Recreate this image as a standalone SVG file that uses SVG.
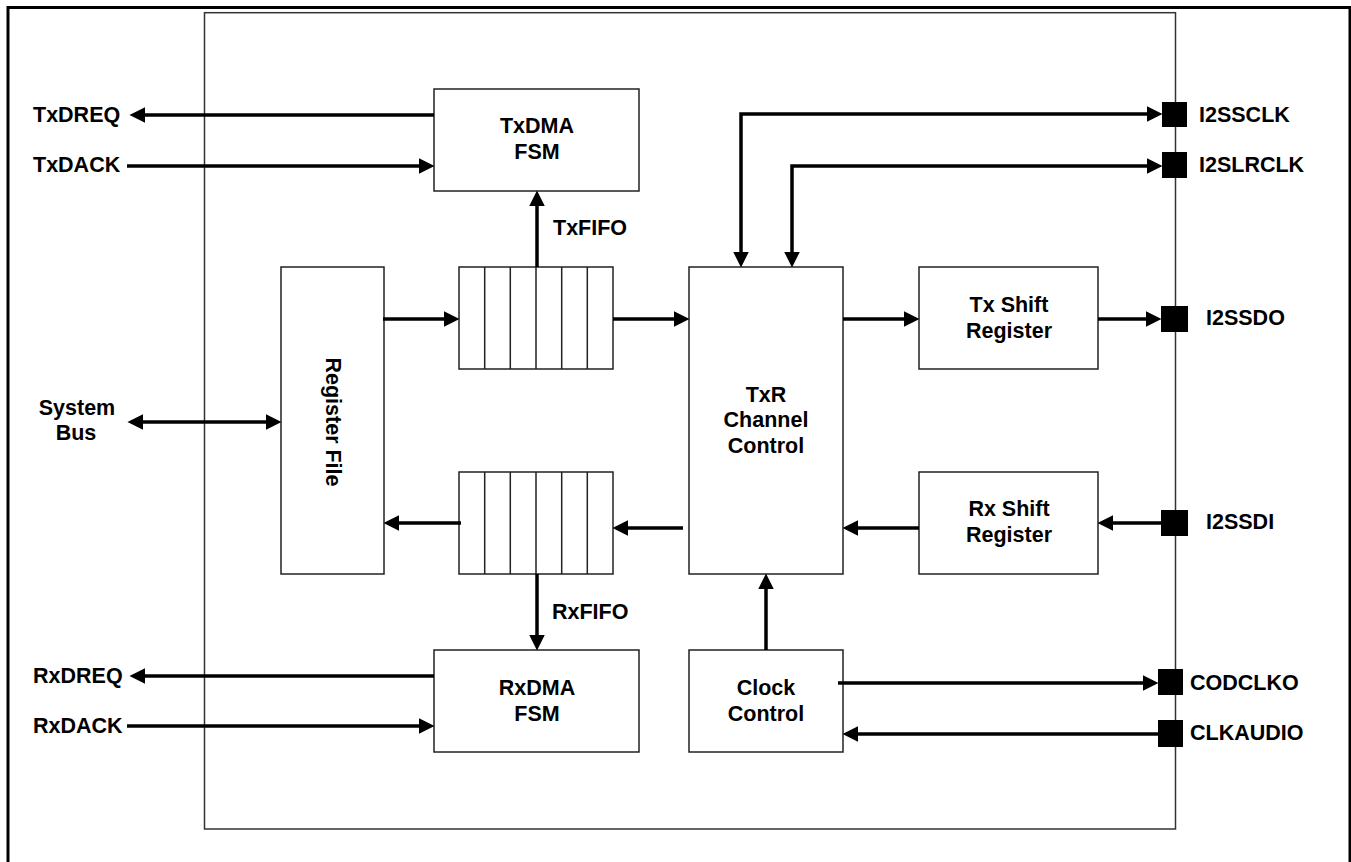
<svg xmlns="http://www.w3.org/2000/svg" width="1351" height="862" viewBox="0 0 1351 862">
<defs>
<style>
.t{font-family:"Liberation Sans",Arial,Helvetica,sans-serif;font-weight:bold;font-size:21.5px;fill:#000}
.c{text-anchor:middle}
.box{fill:#fff;stroke:#222;stroke-width:1.5}
.cell{fill:none;stroke:#222;stroke-width:1.5}
.w{fill:none;stroke:#000;stroke-width:3.5}
.a{marker-end:url(#ah)}
.b{marker-start:url(#ah);marker-end:url(#ah)}
.pin{fill:#000}
</style>
<marker id="ah" markerUnits="userSpaceOnUse" markerWidth="16" markerHeight="16" refX="7" refY="7.5" orient="auto-start-reverse" viewBox="0 0 15 15">
<path d="M0,0 L15,7.5 L0,15 z" fill="#000"/>
</marker>
</defs>
<rect width="1351" height="862" fill="#fff"/>
<rect id="outer-frame" x="8" y="7.5" width="1342" height="900" fill="none" stroke="#000" stroke-width="3"/>
<rect id="block-frame" x="204.5" y="12.7" width="971" height="816.3" fill="none" stroke="#333" stroke-width="1.5"/>

<g id="txdma"><rect class="box" x="434" y="89" width="205" height="102"/>
<text class="t c" x="537" y="133">TxDMA</text><text class="t c" x="537" y="159">FSM</text></g>
<g id="rxdma"><rect class="box" x="434" y="650" width="205" height="102"/>
<text class="t c" x="537" y="695">RxDMA</text><text class="t c" x="537" y="721">FSM</text></g>
<g id="regfile"><rect class="box" x="281" y="267" width="103" height="307"/>
<text class="t c" transform="translate(326,422) rotate(90)">Register File</text></g>
<g id="txfifo"><rect class="box" x="459" y="267" width="154" height="102"/>
<path class="cell" d="M484.7,267V369M510.3,267V369M536,267V369M561.7,267V369M587.3,267V369"/></g>
<g id="rxfifo"><rect class="box" x="459" y="472" width="154" height="102"/>
<path class="cell" d="M484.7,472V574M510.3,472V574M536,472V574M561.7,472V574M587.3,472V574"/></g>
<g id="txr"><rect class="box" x="689" y="267" width="154" height="307"/>
<text class="t c" x="766" y="402">TxR</text><text class="t c" x="766" y="427">Channel</text><text class="t c" x="766" y="453">Control</text></g>
<g id="clock"><rect class="box" x="689" y="650" width="154" height="102"/>
<text class="t c" x="766" y="695">Clock</text><text class="t c" x="766" y="721">Control</text></g>
<g id="txshift"><rect class="box" x="919" y="267" width="179" height="102"/>
<text class="t c" x="1009" y="312">Tx Shift</text><text class="t c" x="1009" y="338">Register</text></g>
<g id="rxshift"><rect class="box" x="919" y="472" width="179" height="102"/>
<text class="t c" x="1009" y="516">Rx Shift</text><text class="t c" x="1009" y="541.5">Register</text></g>

<g id="pins">
<rect class="pin" x="1162" y="102" width="25" height="25"/>
<rect class="pin" x="1162" y="152" width="25" height="26"/>
<rect class="pin" x="1161" y="306" width="27" height="26"/>
<rect class="pin" x="1161" y="510" width="27" height="26"/>
<rect class="pin" x="1158" y="669" width="25" height="26"/>
<rect class="pin" x="1158" y="720" width="25" height="27"/>
</g>

<g id="labels">
<text class="t" x="33" y="121.5">TxDREQ</text>
<text class="t" x="33" y="172">TxDACK</text>
<text class="t" x="33" y="683">RxDREQ</text>
<text class="t" x="33" y="733">RxDACK</text>
<text class="t c" x="77" y="415">System</text>
<text class="t c" x="76" y="440">Bus</text>
<text class="t" x="553" y="235">TxFIFO</text>
<text class="t" x="552" y="619">RxFIFO</text>
<text class="t" x="1199" y="121.5">I2SSCLK</text>
<text class="t" x="1199" y="172">I2SLRCLK</text>
<text class="t" x="1206" y="325">I2SSDO</text>
<text class="t" x="1206" y="529">I2SSDI</text>
<text class="t" x="1190" y="690">CODCLKO</text>
<text class="t" x="1190" y="740">CLKAUDIO</text>
</g>

<g id="connectors">
<path class="w a" d="M434,115H138"/>
<path class="w a" d="M127,166H426"/>
<path class="w a" d="M434,676H138"/>
<path class="w a" d="M127,726H426"/>
<path class="w b" d="M136,422H273"/>
<path class="w a" d="M537,267V199"/>
<path class="w a" d="M537,574V642"/>
<path class="w a" d="M383,319H451"/>
<path class="w a" d="M613,319H681"/>
<path class="w a" d="M461,523H392"/>
<path class="w a" d="M683,528H621"/>
<path class="w a" d="M843,319H911"/>
<path class="w a" d="M1098,319H1153"/>
<path class="w a" d="M1161,523H1106"/>
<path class="w a" d="M919,528H851"/>
<path class="w a" d="M766,650V582"/>
<path class="w a" d="M838,683H1150"/>
<path class="w a" d="M1158,734H851"/>
<path class="w b" d="M1154,114H741V259"/>
<path class="w b" d="M1154,166H792V259"/>
</g>
</svg>
